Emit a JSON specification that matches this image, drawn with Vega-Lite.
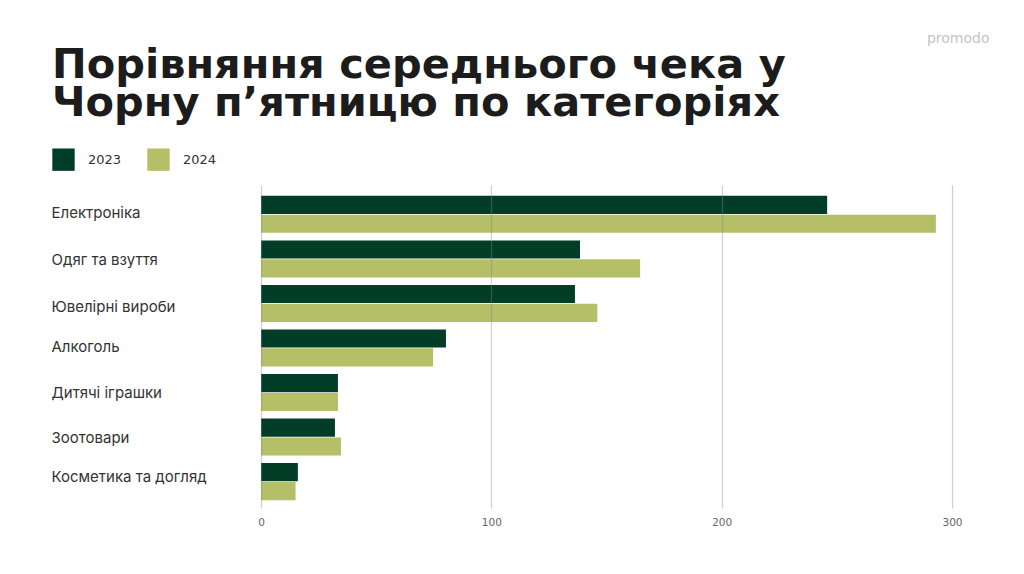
{
  "$schema": "https://vega.github.io/schema/vega-lite/v6.json",
  "width": 691,
  "height": 323,
  "autosize": "none",
  "padding": {"left": 261, "top": 185, "right": 72, "bottom": 66},
  "background": "white",
  "config": {"view": {"stroke": null}, "font": "Inter"},
  "title": {
    "text": ["Порівняння середнього чека у", "Чорну п’ятницю по категоріях"],
    "anchor": "start",
    "frame": "group",
    "font": "DejaVu Sans",
    "fontSize": 41.5,
    "fontWeight": "bold",
    "color": "#1c1c1c",
    "lineHeight": 38,
    "dx": -209,
    "dy": 93,
    "offset": 0
  },
  "data": {
    "values": [
      {"category": "Електроніка", "year": "2023", "value": 245.8},
      {"category": "Електроніка", "year": "2024", "value": 293},
      {"category": "Одяг та взуття", "year": "2023", "value": 138.5},
      {"category": "Одяг та взуття", "year": "2024", "value": 164.6},
      {"category": "Ювелірні вироби", "year": "2023", "value": 136.3},
      {"category": "Ювелірні вироби", "year": "2024", "value": 146},
      {"category": "Алкоголь", "year": "2023", "value": 80.3},
      {"category": "Алкоголь", "year": "2024", "value": 74.7},
      {"category": "Дитячі іграшки", "year": "2023", "value": 33.4},
      {"category": "Дитячі іграшки", "year": "2024", "value": 33.4},
      {"category": "Зоотовари", "year": "2023", "value": 32.1},
      {"category": "Зоотовари", "year": "2024", "value": 34.7},
      {"category": "Косметика та догляд", "year": "2023", "value": 16},
      {"category": "Косметика та догляд", "year": "2024", "value": 15}
    ]
  },
  "mark": {"type": "bar"},
  "encoding": {
    "y": {
      "field": "category",
      "type": "nominal",
      "sort": null,
      "title": null,
      "scale": {"paddingInner": 0.169, "paddingOuter": 0.21, "align": 0.58},
      "axis": {
        "domain": false,
        "ticks": false,
        "labelAlign": "left",
        "labelPadding": 210,
        "labelFontSize": 15,
        "labelColor": "#333333",
        "labelFont": "Inter",
        "labelLimit": 220,
        "labelOffset": {"expr": "datum.label == 'Ювелірні вироби' ? 3.5 : datum.label == 'Косметика та догляд' ? -4.5 : datum.label == 'Електроніка' ? -1.5 : datum.label == 'Алкоголь' ? -1 : datum.label == 'Дитячі іграшки' ? 0 : 1"}
      }
    },
    "yOffset": {"field": "year", "type": "nominal", "scale": {"paddingInner": 0.04}},
    "x": {
      "field": "value",
      "type": "quantitative",
      "title": "promodo",
      "scale": {"domain": [0, 300], "nice": false},
      "axis": {
        "values": [0, 100, 200, 300],
        "grid": true,
        "gridColor": "#888888",
        "gridOpacity": 0.4,
        "gridWidth": 1.2,
        "zindex": 1,
        "domain": false,
        "ticks": false,
        "labelFlush": false,
        "labelFont": "DejaVu Sans",
        "labelFontSize": 10.5,
        "labelColor": "#666666",
        "labelPadding": 9,
        "titleX": 728,
        "titleY": -470,
        "titleFont": "DejaVu Sans",
        "titleFontSize": 14,
        "titleFontWeight": "normal",
        "titleColor": "#c4c4c4",
        "titleAlign": "right",
        "titleBaseline": "middle"
      }
    },
    "color": {
      "field": "year",
      "type": "nominal",
      "title": null,
      "scale": {"domain": ["2023", "2024"], "range": ["#023d28", "#b5bf68"]},
      "legend": {
        "orient": "none",
        "legendX": -209,
        "legendY": -37,
        "direction": "horizontal",
        "symbolType": "square",
        "symbolSize": 500,
        "symbolStrokeWidth": 0,
        "labelFont": "DejaVu Sans",
        "labelFontSize": 13,
        "labelColor": "#333333",
        "labelOffset": 13,
        "columnPadding": 25
      }
    }
  }
}
